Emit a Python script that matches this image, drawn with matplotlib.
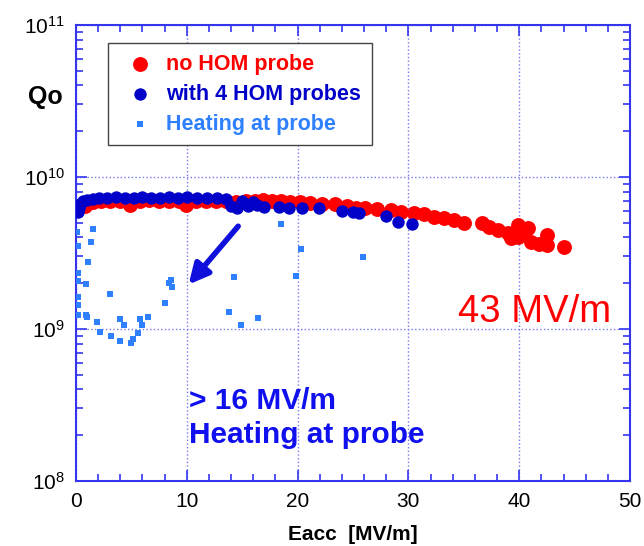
import numpy as np
import matplotlib
matplotlib.use('Agg')
import matplotlib.pyplot as plt
from matplotlib.ticker import LogLocator, MultipleLocator

plt.rcParams['font.family'] = ['Liberation Sans', 'DejaVu Sans']
plt.rcParams['mathtext.fontset'] = 'custom'
plt.rcParams['mathtext.rm'] = 'Liberation Sans'
plt.rcParams['mathtext.it'] = 'Liberation Sans:italic'
plt.rcParams['mathtext.bf'] = 'Liberation Sans:bold'

# Datos: sin sonda HOM (rojo)
red_e = [0.8, 1.5, 2.3, 3.1, 4.0, 4.9, 5.8, 6.6, 7.5, 8.4,
         9.3, 9.9, 10.8, 11.7, 12.6, 13.5, 14.4, 15.3, 16.2, 16.9,
         17.7, 18.5, 19.3, 20.2, 21.1, 22.2, 23.4, 24.5, 25.3, 26.1,
         27.2, 28.4, 29.3, 30.5, 31.4, 32.3, 33.2, 34.1, 35.0, 36.6,
         37.3, 38.1, 39.0, 39.3, 39.9, 39.9, 40.2, 40.8, 41.1, 41.8,
         42.5, 42.5, 44.0]
red_q = [6.4, 6.8, 6.9, 7.0, 6.9, 6.5, 7.0, 7.1, 6.9, 7.0,
         6.9, 6.5, 6.9, 7.0, 7.0, 6.9, 6.8, 6.9, 7.0, 7.06,
         7.0, 6.95, 6.85, 6.8, 6.7, 6.65, 6.65, 6.4, 6.3, 6.25,
         6.15, 6.05, 5.9, 5.8, 5.7, 5.45, 5.37, 5.2, 4.98, 4.98,
         4.7, 4.48, 4.28, 3.97, 4.83, 4.0, 4.35, 4.6, 3.73, 3.65,
         4.15, 3.57, 3.47]

# Datos: con 4 sondas HOM (azul)
blue_e = [0.2, 0.3, 0.4, 0.6, 1.0, 1.5, 2.1, 2.8, 3.6, 4.4,
          5.2, 6.0, 6.8, 7.6, 8.4, 9.2, 10.0, 10.9, 11.8, 12.7,
          13.5, 14.0, 14.5, 15.0, 15.5, 16.0, 16.3, 17.0, 18.3, 19.2,
          20.4, 21.9, 24.0, 25.0, 25.5, 28.0, 29.1, 30.3]
blue_q = [5.9, 6.3, 6.6, 6.9, 7.1, 7.2, 7.3, 7.3, 7.4, 7.3,
          7.3, 7.4, 7.3, 7.3, 7.4, 7.3, 7.4, 7.3, 7.3, 7.3,
          7.2, 6.4, 6.3, 6.9, 6.4, 6.85, 6.5, 6.35, 6.35, 6.25,
          6.25, 6.25, 5.97, 5.9, 5.8, 5.5, 5.06, 4.9]

# Datos: calentamiento en la sonda (celeste)
heat_e = [0.12, 1.57, 1.39, 0.21, 1.12, 0.21, 0.21, 0.94, 8.59, 8.68,
          8.4, 3.05, 0.21, 0.21, 7.99, 0.21, 0.88, 0.95, 1.94, 4.0,
          4.36, 5.8, 6.53, 5.95, 2.18, 3.15, 4.0, 5.57, 5.1, 5.0,
          13.8, 14.9, 16.4, 14.3, 19.9, 20.3, 18.5, 25.9]
heat_q = [4.37, 4.53, 3.75, 3.5, 2.75, 2.35, 2.07, 1.98, 2.1, 1.9,
          2.0, 1.7, 1.63, 1.44, 1.48, 1.24, 1.23, 1.2, 1.11, 1.16,
          1.07, 1.16, 1.2, 1.06, 0.95, 0.90, 0.83, 0.94, 0.86, 0.81,
          1.29, 1.07, 1.19, 2.2, 2.24, 3.36, 4.9, 2.96]

red_q = np.array(red_q) * 1e9
blue_q = np.array(blue_q) * 1e9
heat_q = np.array(heat_q) * 1e9

azul_eje = '#3535f0'

fig = plt.figure(figsize=(6.44, 5.46), dpi=100)
ax = fig.add_axes([76/644, 1 - 481/546, 554/644, 456/546])

ax.scatter(red_e, red_q, s=115, color='#ff0000', lw=0, label='no HOM probe', zorder=3)
ax.scatter(blue_e, blue_q, s=80, color='#0000c8', lw=0, label='with 4 HOM probes', zorder=4)
ax.scatter(heat_e, heat_q, s=24, marker='s', color='#2f80ff', lw=0, label='Heating at probe', zorder=3)

ax.set_yscale('log')
ax.set_xlim(0, 50)
ax.set_ylim(1e8, 1e11)

ax.xaxis.set_major_locator(MultipleLocator(10))
ax.xaxis.set_minor_locator(MultipleLocator(2))
ax.yaxis.set_major_locator(LogLocator(base=10))
ax.yaxis.set_minor_locator(LogLocator(base=10, subs=np.arange(2, 10)))
ax.yaxis.set_minor_formatter(plt.NullFormatter())

ax.grid(True, which='major', linestyle=':', color='#7777ee', lw=1)
for s in ax.spines.values():
    s.set_color(azul_eje)
    s.set_linewidth(1.5)
ax.tick_params(which='both', direction='in', color=azul_eje, top=True, right=True,
               labelsize=15, labelcolor='black')
ax.tick_params(which='major', length=8, width=1.2, pad=8)
ax.tick_params(which='minor', length=5, width=1.2)

ax.set_xlabel('Eacc  [MV/m]', fontsize=15, fontweight='bold', labelpad=10)
fig.text(45/644, 1 - 97/546, 'Qo', fontsize=18, fontweight='bold', ha='center', va='center')

# Flecha
ax.annotate('', xy=(10.0, 1.9e9), xytext=(14.8, 4.9e9),
            arrowprops=dict(arrowstyle='-|>', color='#1010dd', lw=4, mutation_scale=30))

ax.text(34.5, 1.11e9, '43 MV/m', color='#ff0000', fontsize=27.5, va='baseline')
ax.text(10.2, 2.98e8, '> 16 MV/m', color='#1010ee', fontsize=21.5, fontweight='bold', va='baseline')
ax.text(10.2, 1.78e8, 'Heating at probe', color='#1010ee', fontsize=21.5, fontweight='bold', va='baseline')

leg = ax.legend(loc='upper left', bbox_to_anchor=(0.058, 0.961), borderaxespad=0,
                fancybox=False, edgecolor='#444444', framealpha=1,
                prop={'size': 15.5, 'weight': 'bold'}, labelspacing=0.42,
                handletextpad=0.2, borderpad=0.5, scatterpoints=1)
leg.get_frame().set_linewidth(1.0)
for txt, col in zip(leg.get_texts(), ['#ff0000', '#0000c8', '#2f80ff']):
    txt.set_color(col)

plt.savefig('out.png', dpi=100)
